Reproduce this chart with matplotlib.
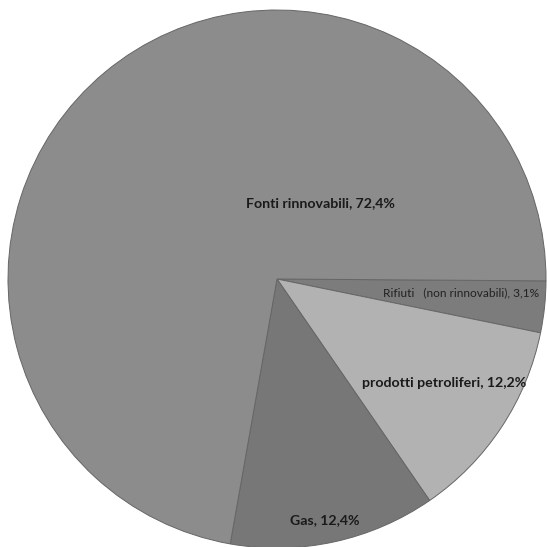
import matplotlib.pyplot as plt

labels = ["Rifiuti   (non rinnovabili), 3,1%", "prodotti petroliferi, 12,2%",
          "Gas, 12,4%", "Fonti rinnovabili, 72,4%"]
shares = [3.1, 12.2, 12.4, 72.4]
colors = ["#7c7c7c", "#b2b2b2", "#777777", "#8c8c8c"]

fig = plt.figure(figsize=(5.47, 5.47), dpi=100)
ax = fig.add_axes([0, 0, 1, 1])

wedges, _ = ax.pie(shares, colors=colors, startangle=-0.4, counterclock=False,
                   center=(277, 268), radius=269, frame=True,
                   wedgeprops=dict(edgecolor="#666666", linewidth=0.7))
ax.set_xlim(0, 547)
ax.set_ylim(0, 547)
ax.axis("off")

font = ["Lato", "DejaVu Sans"]
ax.text(461, 254, labels[0], ha="center", va="center", fontsize=8.6,
        family=font, color="#222222")
ax.text(444, 164, labels[1], ha="center", va="center", fontsize=10.2,
        family=font, fontweight="bold", color="#1a1a1a")
ax.text(325, 27, labels[2], ha="center", va="center", fontsize=10.2,
        family=font, fontweight="bold", color="#1a1a1a")
ax.text(320, 344, labels[3], ha="center", va="center", fontsize=10.2,
        family=font, fontweight="bold", color="#1a1a1a")

fig.savefig("out.png", dpi=100)
